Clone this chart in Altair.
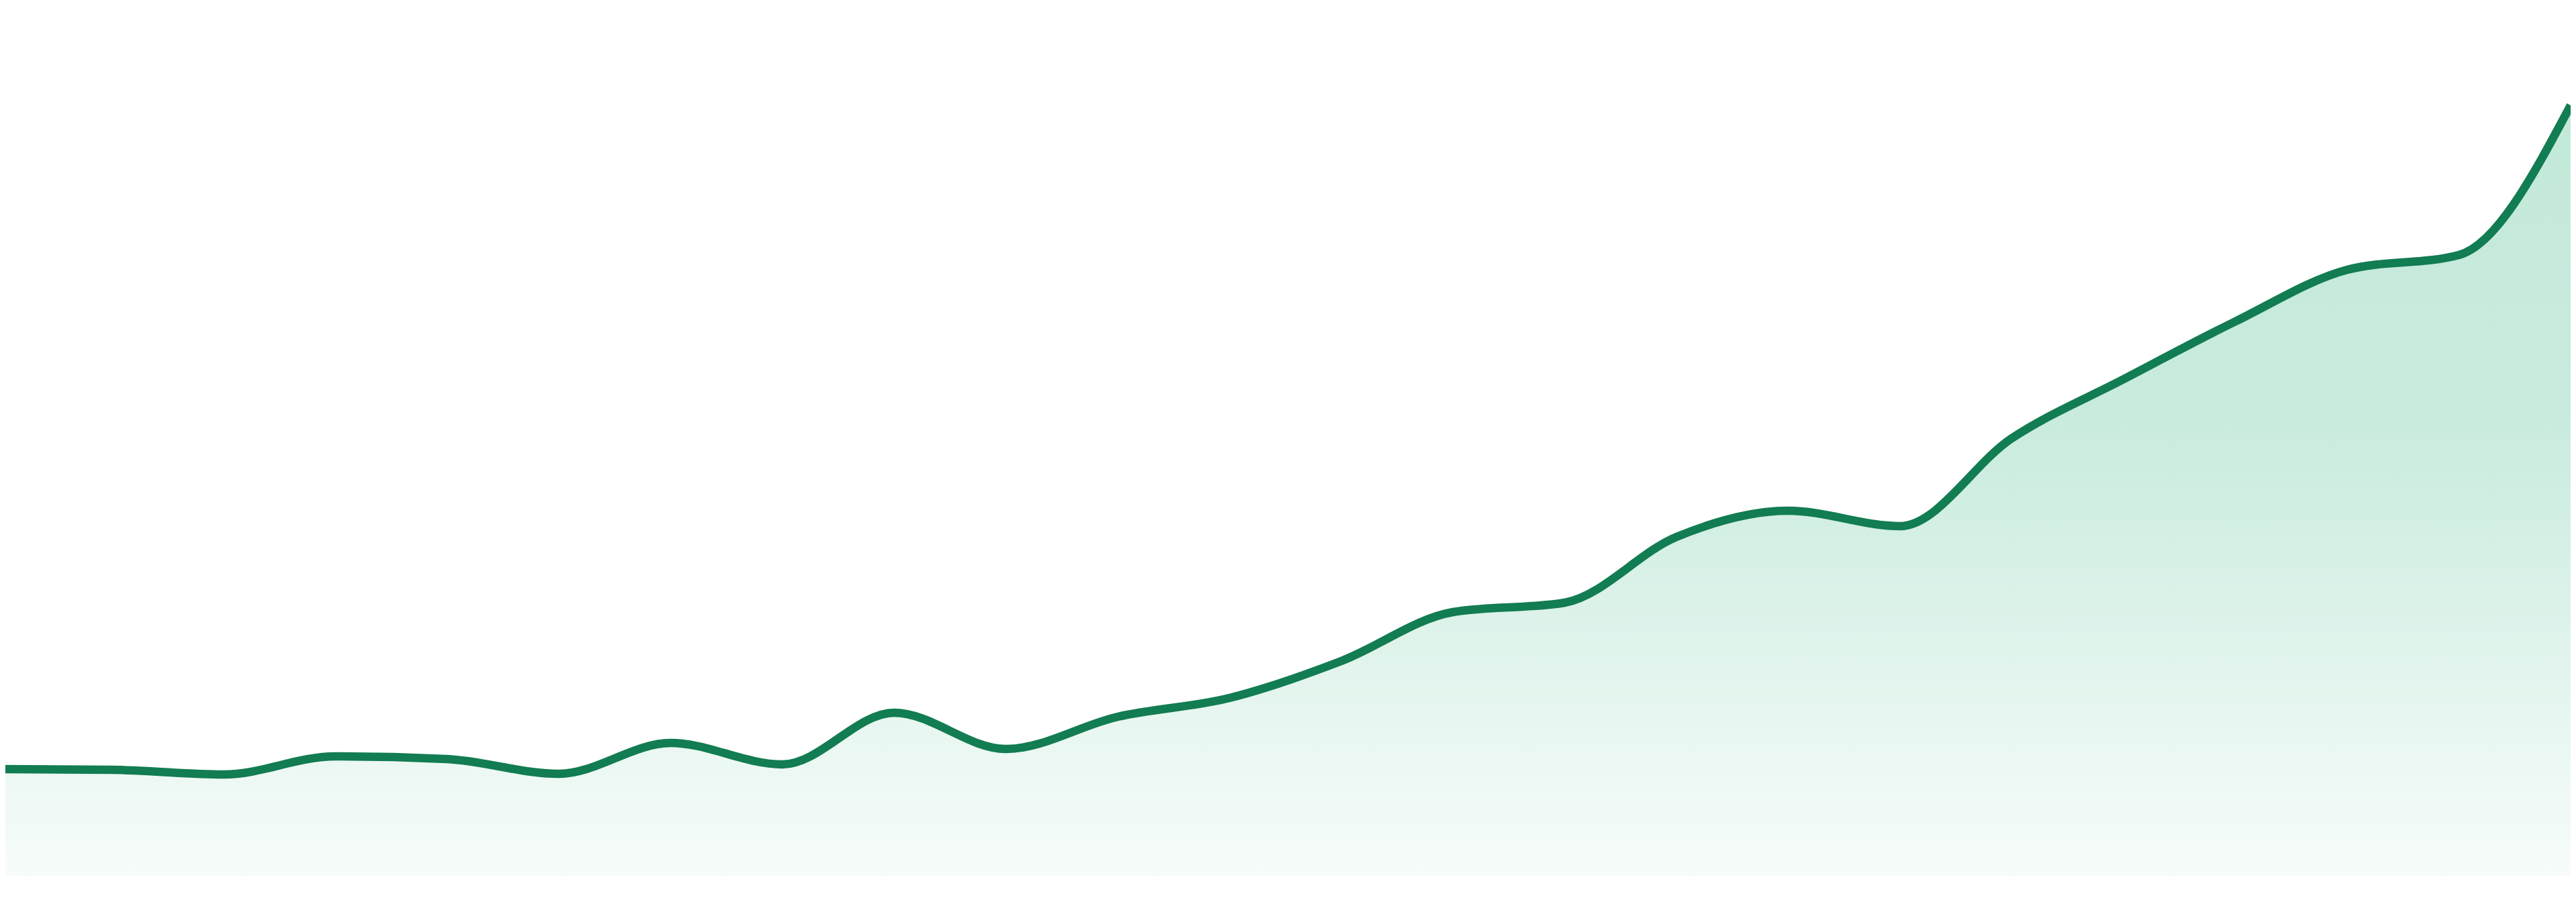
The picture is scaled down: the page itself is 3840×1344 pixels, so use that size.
import altair as alt
import pandas as pd

# Point index along the x axis (evenly spaced samples)
points = list(range(24))
# Series values (height above the baseline)
values = [159, 158, 151, 178, 174, 152, 198, 166, 243, 189, 237, 265,
          320, 393, 407, 505, 544, 521, 652, 740, 826, 903, 925, 1148]

df = pd.DataFrame({"i": points, "v": values})

x_enc = alt.X("i:Q", axis=None, scale=alt.Scale(domain=[0.048, 23], nice=False, zero=False))
y_enc = alt.Y("v:Q", axis=None, scale=alt.Scale(domain=[0, 1297], nice=False))

area = alt.Chart(df).mark_area(
    interpolate="monotone",
    clip=True,
    color=alt.Gradient(
        gradient="linear",
        stops=[
            alt.GradientStop(color="#f7fcfa", offset=0),
            alt.GradientStop(color="#c8ebdd", offset=0.6),
            alt.GradientStop(color="#c3e9d9", offset=1),
        ],
        x1=1, x2=1, y1=1, y2=0,
    ),
).encode(x=x_enc, y=y_enc)

line = alt.Chart(df).mark_line(
    interpolate="monotone",
    clip=True,
    color="#127c52",
    strokeWidth=12.5,
).encode(x=x_enc, y=y_enc)

chart = (
    alt.layer(area, line)
    .properties(width=3824, height=1297, padding=0, background="white")
    .configure_view(strokeWidth=0)
)

chart.save("out.html", embed_options={"renderer": "svg", "actions": False})
